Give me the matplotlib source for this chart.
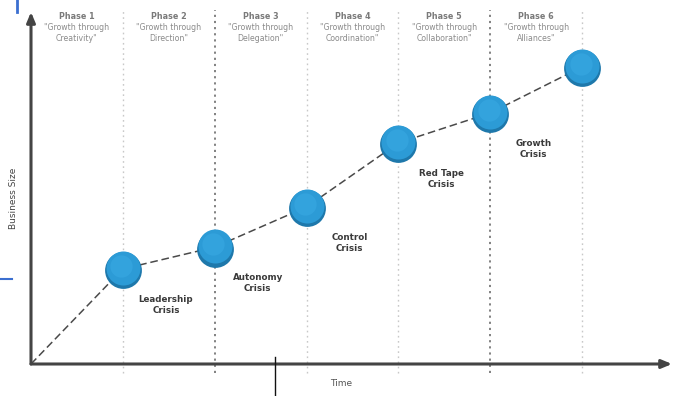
import matplotlib
matplotlib.use("Agg")
import matplotlib.pyplot as plt
from matplotlib.lines import Line2D

# Greiner growth model: phases, crises and relative business size
phase_names = ["Phase 1", "Phase 2", "Phase 3", "Phase 4", "Phase 5", "Phase 6"]
phase_themes = ["Creativity", "Direction", "Delegation", "Coordination",
                "Collaboration", "Alliances"]
crisis_time = [1, 2, 3, 4, 5, 6]
crisis_size = [27.0, 33.2, 44.6, 62.8, 71.3, 84.4]
crisis_names = ["Leadership\nCrisis", "Autonomy\nCrisis", "Control\nCrisis",
                "Red Tape\nCrisis", "Growth\nCrisis", None]
bold_dividers = [2, 5]

W, H = 679, 396
fig = plt.figure(figsize=(W / 100, H / 100), dpi=100)
ax = fig.add_axes([31 / W, (H - 364) / H, (672 - 31) / W, 352 / H])
ax.set_xlim(0, 6.98)
ax.set_ylim(0, 100)
ax.axis("off")

# phase dividers
for t in crisis_time:
    if t in bold_dividers:
        ax.plot([t, t], [-2.5, 100.5], color="#777777", lw=1.3, ls=(0, (1.2, 2.2)),
                clip_on=False, zorder=1)
    else:
        ax.plot([t, t], [-2.5, 100.5], color="#c8c8c8", lw=1.0, ls=(0, (1.2, 2.5)),
                clip_on=False, zorder=1)

# phase headers
for i, (name, theme) in enumerate(zip(phase_names, phase_themes)):
    xc = crisis_time[i] - 0.5
    ax.text(xc, 98.6, name, ha="center", va="center", fontsize=5.8,
            fontweight="bold", color="#7a7a7a", zorder=3)
    ax.text(xc, 94.0, "\"Growth through\n" + theme + "\"", ha="center", va="center",
            fontsize=5.6, color="#8a8a8a", linespacing=1.2, zorder=3)

# growth path
ax.plot([0] + crisis_time, [0] + crisis_size, color="#4a4a4a", lw=1.1,
        ls=(0, (5, 2.5)), zorder=2)

# crisis markers (diameter ~36 px)
for t, s in zip(crisis_time, crisis_size):
    ax.plot(t, s - 0.4, "o", ms=26.5, color="#1e78ab", mew=0, zorder=4)
    ax.plot(t, s + 0.2, "o", ms=24.5, color="#2c9bd6", mew=0, zorder=5)
    ax.plot(t - 0.015, s + 0.8, "o", ms=16, color="#3aaae4", mew=0, alpha=0.55, zorder=6)

for t, s, name in zip(crisis_time, crisis_size, crisis_names):
    if name is None:
        continue
    ax.annotate(name, (t, s), xytext=(31, -26), textcoords="offset points",
                ha="center", va="center", fontsize=6.3, fontweight="bold",
                color="#3a3a3a", linespacing=1.3, zorder=6)

# axes with arrows
arrow = dict(arrowstyle="-|>,head_length=0.6,head_width=0.25", color="#444444", lw=2.2,
             shrinkA=0, shrinkB=0)
ax.annotate("", xy=(0, 1.0), xytext=(0, 0), xycoords="axes fraction", arrowprops=arrow)
ax.annotate("", xy=(1.0, 0), xytext=(0, 0), xycoords="axes fraction", arrowprops=arrow)

ax.text(-0.028, 0.47, "Business Size", transform=ax.transAxes, rotation=90,
        ha="center", va="center", fontsize=6.5, color="#444444")
ax.text(0.484, -0.055, "Time", transform=ax.transAxes, ha="center", va="center",
        fontsize=6.5, color="#555555")

# screenshot artefacts
fig.add_artist(Line2D([16.5 / W, 16.5 / W], [1 - 12 / H, 1], color="#3b6fd0", lw=2))
fig.add_artist(Line2D([0, 12 / W], [1 - 279 / H, 1 - 279 / H], color="#3b6fd0", lw=1.5))
fig.add_artist(Line2D([275 / W, 275 / W], [0, 1 - 357 / H], color="#111111", lw=1))

fig.savefig("out.png", dpi=100, facecolor="white")
